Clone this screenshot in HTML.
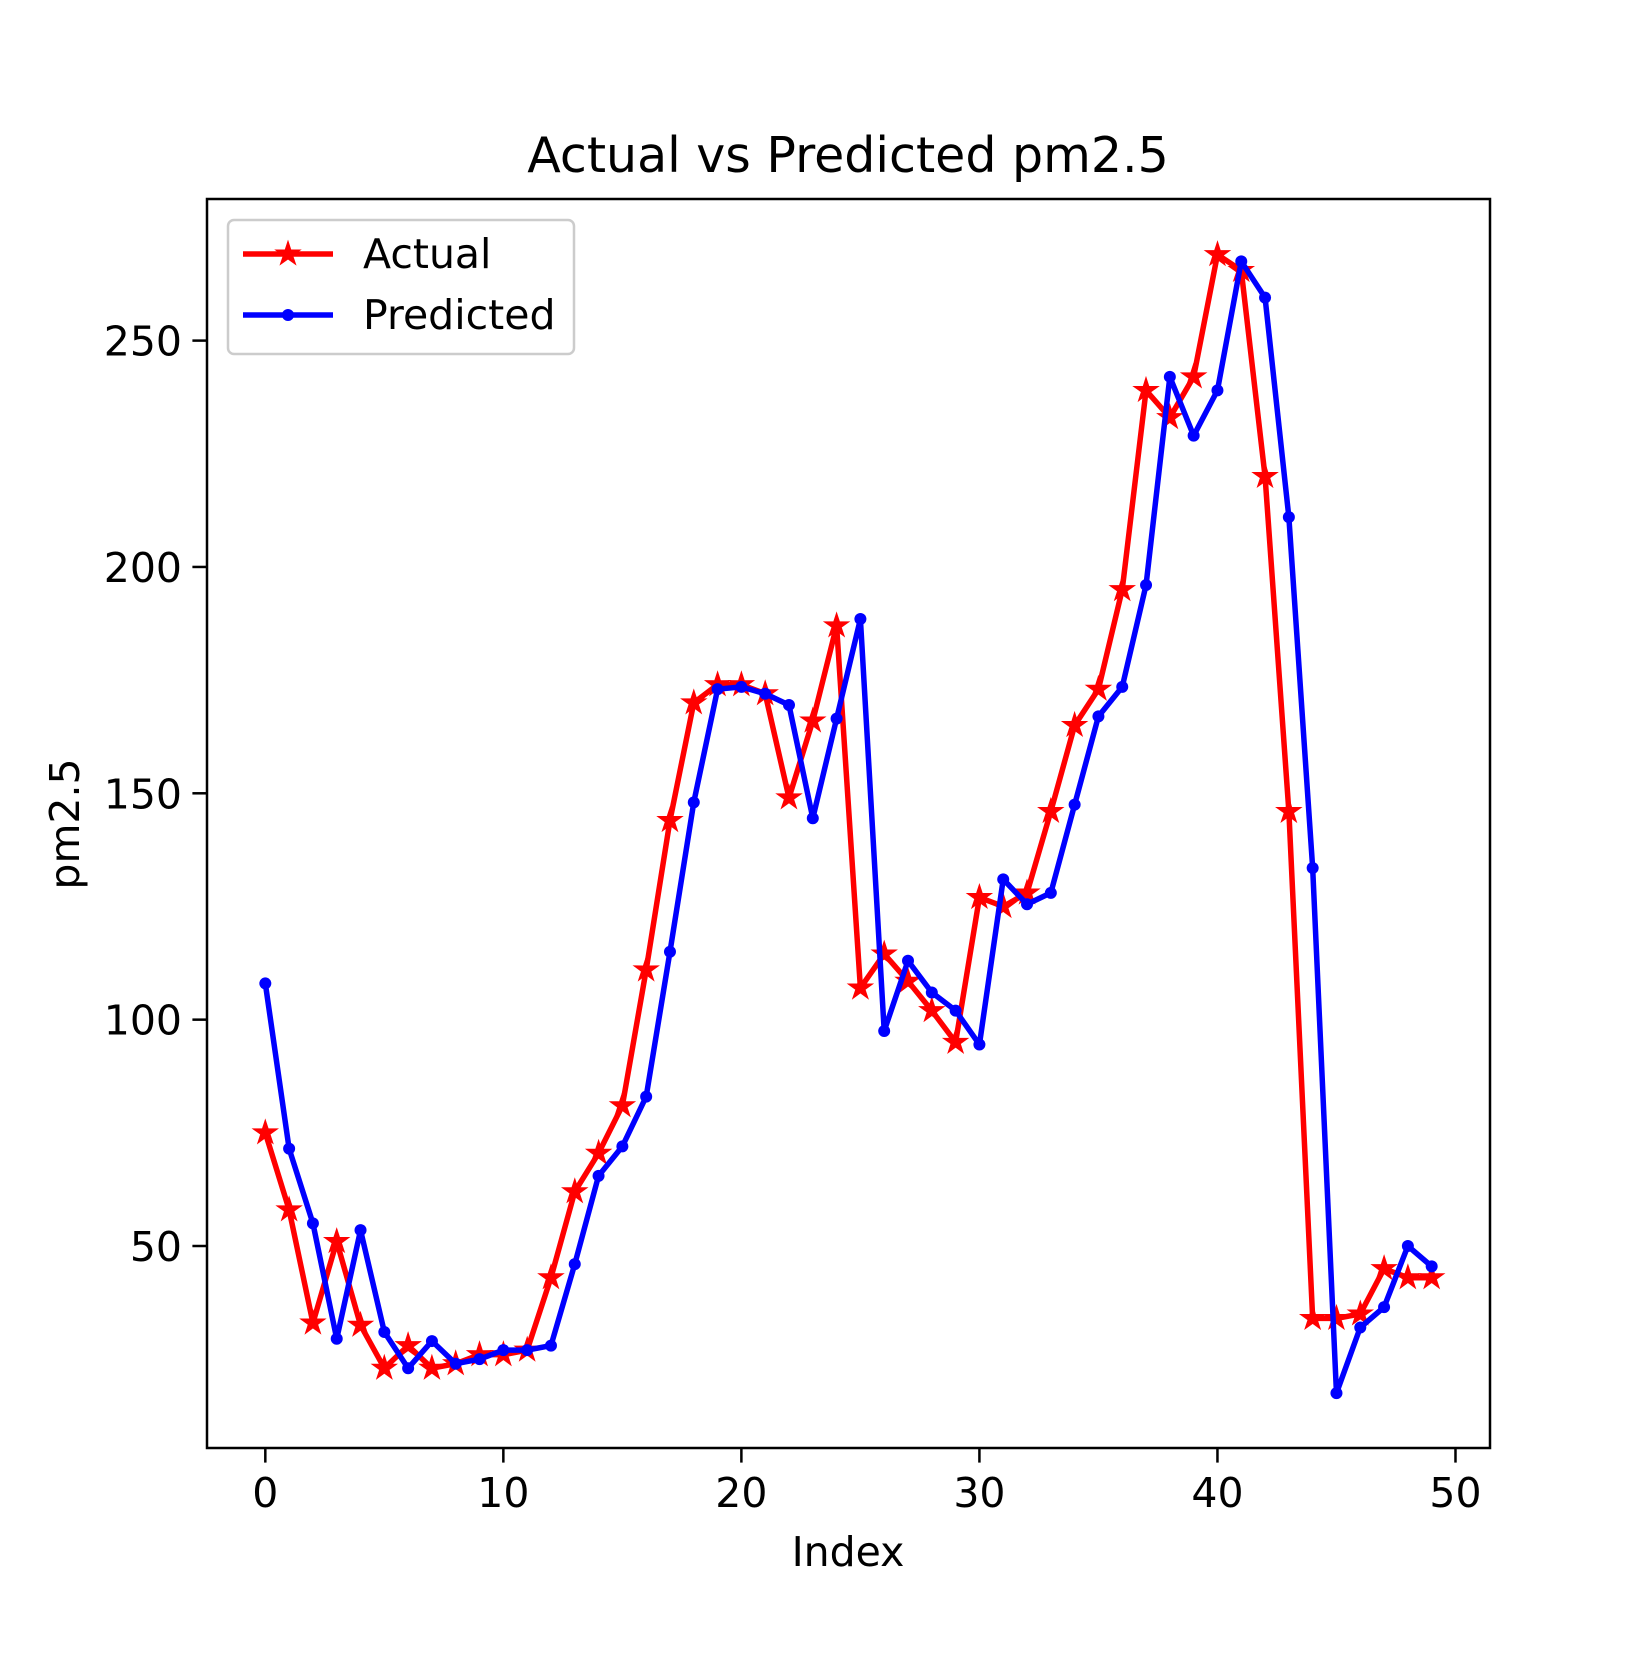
<!DOCTYPE html>
<html><head><meta charset="utf-8"><style>
body{margin:0;background:#fff}
svg text{font-family:"DejaVu Sans","Liberation Sans",sans-serif;fill:#000}
</style></head><body>
<svg id="chart" width="1650" height="1650" viewBox="0 0 1650 1650" xmlns="http://www.w3.org/2000/svg">
<rect width="1650" height="1650" fill="#fff"/>
<g id="plot"></g>
</svg>
<script>
const actual=[75,58,33,51,32.5,23,28,23,24,26,26,27,43,62,70.5,81,111,144,170,174,174,172,149,166,187,107,114.5,108.5,102,95,127,125,128,146,165,173,195,239,233,242,269,265.5,220,146,34,34,35,45,43,43];
const predicted=[108,71.5,55,29.5,53.5,31,23,29,24,25,27,27,28,46,65.5,72,83,115,148,173,173.5,172,169.5,144.5,166.5,188.5,97.5,113,106,102,94.5,131,125.5,128,147.5,167,173.5,196,242,229,239,267.5,259.5,211,133.5,17.5,32,36.5,50,45.5];
const xTicks=[0,10,20,30,40,50];
const yTicks=[50,100,150,200,250];
const L=207,R=1490,T=199,B=1448;
const x=v=>L+(v+2.45)*(R-L)/53.9;
const y=v=>1246-(v-50)*4.527;
const NS='http://www.w3.org/2000/svg';
const g=document.getElementById('plot');
function mk(tag,attrs,parent){const e=document.createElementNS(NS,tag);for(const k in attrs)e.setAttribute(k,attrs[k]);(parent||g).appendChild(e);return e;}
const fr=mk('rect',{x:L,y:T,width:R-L,height:B-T,fill:'none',stroke:'#000','stroke-width':2.5});


xTicks.forEach(t=>{
 const l=mk('line',{x1:x(t),x2:x(t),y1:B,y2:B+14.6,stroke:'#000','stroke-width':2.5});
 
 
 const tx=mk('text',{x:x(t),y:B+59,'font-size':41,'text-anchor':'middle'});
 tx.textContent=t;
 
 
});
yTicks.forEach(t=>{
 const l=mk('line',{x1:L-14.6,x2:L,y1:y(t),y2:y(t),stroke:'#000','stroke-width':2.5});
 
 
 const tx=mk('text',{x:L-25,y:y(t)+15,'font-size':41,'text-anchor':'end'});
 tx.textContent=t;
 
 
});
function star(cx,cy,r){let p=[];for(let i=0;i<10;i++){const rr=i%2?r*0.38:r;const a=-Math.PI/2+i*Math.PI/5;p.push((cx+rr*Math.cos(a)).toFixed(1)+','+(cy+rr*Math.sin(a)).toFixed(1));}return p.join(' ');}
function series(data,color,kind,name){
 const pl=mk('polyline',{points:data.map((v,i)=>x(i)+','+y(v)).join(' '),fill:'none',stroke:color,'stroke-width':5.5,'stroke-linejoin':'round'});
 
 
 data.forEach((v,i)=>{
  let m;
  if(kind==='star')m=mk('polygon',{points:star(x(i),y(v),12),fill:color,stroke:color,'stroke-width':1.5});
  else m=mk('circle',{cx:x(i),cy:y(v),r:6,fill:color});
  
  
 });
}
series(actual,'#ff0000','star','actual');
series(predicted,'#0000ff','dot','predicted');
const lg=mk('g',{});


mk('rect',{x:228,y:220,width:346,height:134,rx:6,fill:'#fff','fill-opacity':0.8,stroke:'#ccc','stroke-width':2.5},lg);
mk('line',{x1:243,x2:333,y1:254,y2:254,stroke:'#ff0000','stroke-width':5.5},lg);
mk('polygon',{points:star(288,254,12),fill:'#ff0000',stroke:'#ff0000','stroke-width':1.5},lg);
const t1=mk('text',{x:363,y:268,'font-size':41},lg);t1.textContent='Actual';


mk('line',{x1:243,x2:333,y1:315,y2:315,stroke:'#0000ff','stroke-width':5.5},lg);
mk('circle',{cx:288,cy:315,r:6,fill:'#0000ff'},lg);
const t2=mk('text',{x:363,y:329,'font-size':41},lg);t2.textContent='Predicted';


const ti=mk('text',{x:848,y:172,'font-size':49,'text-anchor':'middle'});ti.textContent='Actual vs Predicted pm2.5';


const xl=mk('text',{x:848,y:1566,'font-size':41,'text-anchor':'middle'});xl.textContent='Index';


const yl=mk('text',{x:0,y:0,'font-size':41,'text-anchor':'middle',transform:'translate(79,824) rotate(-90)'});yl.textContent='pm2.5';


</script>
</body></html>
